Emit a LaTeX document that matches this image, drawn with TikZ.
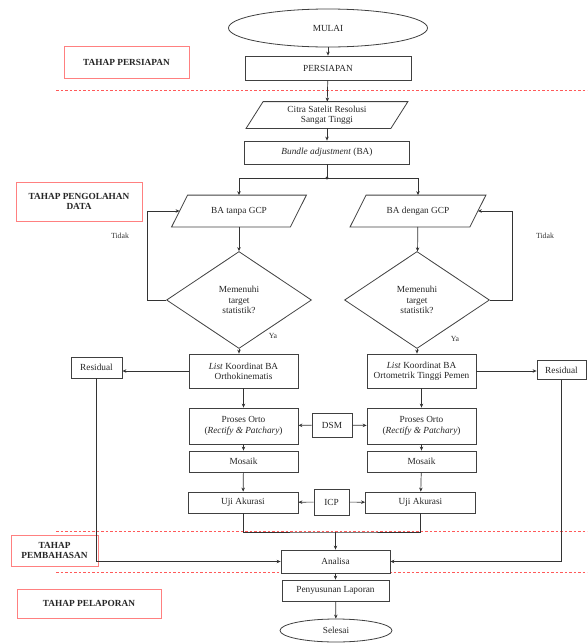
\documentclass[tikz,border=0pt]{standalone}
\usepackage{fontspec}
\setmainfont{Liberation Serif}
\usetikzlibrary{shapes.geometric,arrows.meta,calc}
\newcommand\drawpara[2]{\draw[paraline] ($(#1.north west)+(#2/2,0)$) -- ($(#1.north east)+(#2/2,0)$) -- ($(#1.south east)-(#2/2,0)$) -- ($(#1.south west)-(#2/2,0)$) -- cycle;}
\begin{document}
\begin{tikzpicture}[x=1pt,y=-1pt,
  font=\fontsize{9.3}{10.3}\selectfont,
  base/.style={line width=0.8pt,align=center,text=black!85,inner sep=1pt},
  box/.style={base,draw=black!75,rectangle,fill=white},
  ell/.style={base,draw=black!75,ellipse,fill=white},
  dia/.style={base,draw=black!75,diamond,fill=white},
  parabox/.style={base,rectangle,draw=none},
  paraline/.style={draw=black!75,line width=0.8pt,line join=miter},
  sec/.style={base,draw=red!50,rectangle,fill=white,font=\fontsize{9.3}{10.3}\selectfont\bfseries},
  lbl/.style={text=black!80,inner sep=0pt,font=\fontsize{7.8}{8.8}\selectfont},
  line/.style={draw=black!80,line width=0.7pt},
  arr/.style={line,-{Stealth[length=4pt,width=3.5pt]}},
  sep/.style={draw=red!65,line width=0.7pt,dash pattern=on 2.5pt off 2pt}]
\useasboundingbox (0,0) rectangle (587,643);
% separators
\draw[sep] (56,90) -- (587,90);
\draw[sep] (56,531) -- (587,531);
\draw[sep] (56,572) -- (587,572);
% section labels
\node[sec, minimum width=125pt, minimum height=32pt] (s1) at (126.5,62) {TAHAP PERSIAPAN};
\node[sec, minimum width=126pt, minimum height=39pt] (s2) at (79,201.5) {TAHAP PENGOLAHAN\\DATA};
\node[sec, minimum width=87pt, minimum height=31pt] (s3) at (54.5,550.5) {TAHAP\\PEMBAHASAN};
\node[sec, minimum width=144pt, minimum height=29pt] (s4) at (89,603.5) {TAHAP PELAPORAN};
% main chain
\node[ell, minimum width=199pt, minimum height=38pt] (mulai) at (328,28) {MULAI};
\node[box, minimum width=166pt, minimum height=24pt] (persiapan) at (328,68) {PERSIAPAN};
\node[parabox, minimum width=144pt, minimum height=26pt] (citra) at (327,115) {};
\drawpara{citra}{17}
\node[base] at (citra) {Citra Satelit Resolusi\\Sangat Tinggi};
\node[box, minimum width=165pt, minimum height=23pt] (ba) at (327,152.5) {\textit{Bundle adjustment} (BA)};
\coordinate (j) at (327,178);
\node[parabox, minimum width=118pt, minimum height=31pt] (paraL) at (239,211) {};
\drawpara{paraL}{16}
\node[base] at (paraL) {BA tanpa GCP};
\node[parabox, minimum width=119pt, minimum height=31pt] (paraR) at (418,211) {};
\drawpara{paraR}{16}
\node[base] at (paraR) {BA dengan GCP};
\node[dia, minimum width=145pt, minimum height=97pt] (diaL) at (239,300) {Memenuhi\\target\\statistik?};
\node[dia, minimum width=145pt, minimum height=97pt] (diaR) at (417,300) {Memenuhi\\target\\statistik?};
\node[box, minimum width=109pt, minimum height=34pt] (listL) at (243.5,371) {\textit{List} Koordinat BA\\Orthokinematis};
\node[box, minimum width=109pt, minimum height=34pt] (listR) at (421.5,371) {\textit{List} Koordinat BA\\Ortometrik Tinggi Pemen};
\node[box, minimum width=109pt, minimum height=36pt] (procL) at (243.5,426) {Proses Orto\\(\textit{Rectify \& Patchary})};
\node[box, minimum width=109pt, minimum height=36pt] (procR) at (421.5,426) {Proses Orto\\(\textit{Rectify \& Patchary})};
\node[box, minimum width=40pt, minimum height=24pt] (dsm) at (332,425) {DSM};
\node[box, minimum width=109pt, minimum height=21pt] (mosL) at (243.5,461.5) {Mosaik};
\node[box, minimum width=109pt, minimum height=21pt] (mosR) at (421.5,461.5) {Mosaik};
\node[box, minimum width=110pt, minimum height=21pt] (ujiL) at (243,502.5) {Uji Akurasi};
\node[box, minimum width=110pt, minimum height=21pt] (ujiR) at (420.5,502.5) {Uji Akurasi};
\node[box, minimum width=35pt, minimum height=26pt] (icp) at (331.5,502) {ICP};
\node[box, minimum width=51pt, minimum height=21pt] (resL) at (96.5,367.5) {Residual};
\node[box, minimum width=49pt, minimum height=19pt] (resR) at (561.5,370) {Residual};
\node[box, minimum width=109pt, minimum height=23pt] (analisa) at (335.5,561.5) {Analisa};
\node[box, minimum width=107pt, minimum height=21pt] (lapor) at (335.5,590.5) {Penyusunan Laporan};
\node[ell, minimum width=112pt, minimum height=23pt] (selesai) at (336,630.5) {Selesai};
% labels
\node[lbl] (tidakL) at (120,236) {Tidak};
\node[lbl] (tidakR) at (545,236) {Tidak};
\node[lbl] (yaL) at (273,336) {Ya};
\node[lbl] (yaR) at (455,339) {Ya};
% connectors
\draw[arr] (mulai) -- (persiapan);
\draw[arr] (persiapan) -- (citra);
\draw[arr] (citra) -- (ba);
\draw[line] (ba.south) -- (j);
\fill[black!80] (j) circle (1.6pt);
\draw[arr] (j) -| (paraL.north);
\draw[arr] (j) -| (paraR.north);
\draw[arr] (paraL) -- (diaL);
\draw[arr] (paraR) -- (diaR);
\draw[arr] (diaL.west) -- ++(-19,0) |- (paraL.west);
\draw[arr] (diaR.east) -- ++(22,0) |- (paraR.east);
\draw[arr] (diaL.south) -- (diaL.south |- listL.north);
\draw[arr] (diaR.south) -- (diaR.south |- listR.north);
\draw[arr] (listL.west) -- (listL.west -| resL.east);
\draw[arr] (listR.east) -- (listR.east -| resR.west);
\draw[arr] (listL) -- (procL);
\draw[arr] (listR) -- (procR);
\draw[arr] (dsm) -- (procL);
\draw[arr] (dsm) -- (procR);
\draw[arr] (procL) -- (mosL);
\draw[arr] (procR) -- (mosR);
\draw[arr] (mosL) -- (ujiL);
\draw[arr] (mosR) -- (ujiR);
\draw[arr] (icp) -- (ujiL);
\draw[arr] (icp) -- (ujiR);
\coordinate (m) at (335.5,532);
\draw[line] (ujiL.south) |- (m) -| (ujiR.south);
\draw[arr] (m) -- (analisa.north);
\draw[arr] (resL.south) |- (analisa.west);
\draw[arr] (resR.south) |- (analisa.east);
\draw[arr] (analisa) -- (lapor);
\draw[arr] (lapor) -- (selesai);
\end{tikzpicture}
\end{document}
